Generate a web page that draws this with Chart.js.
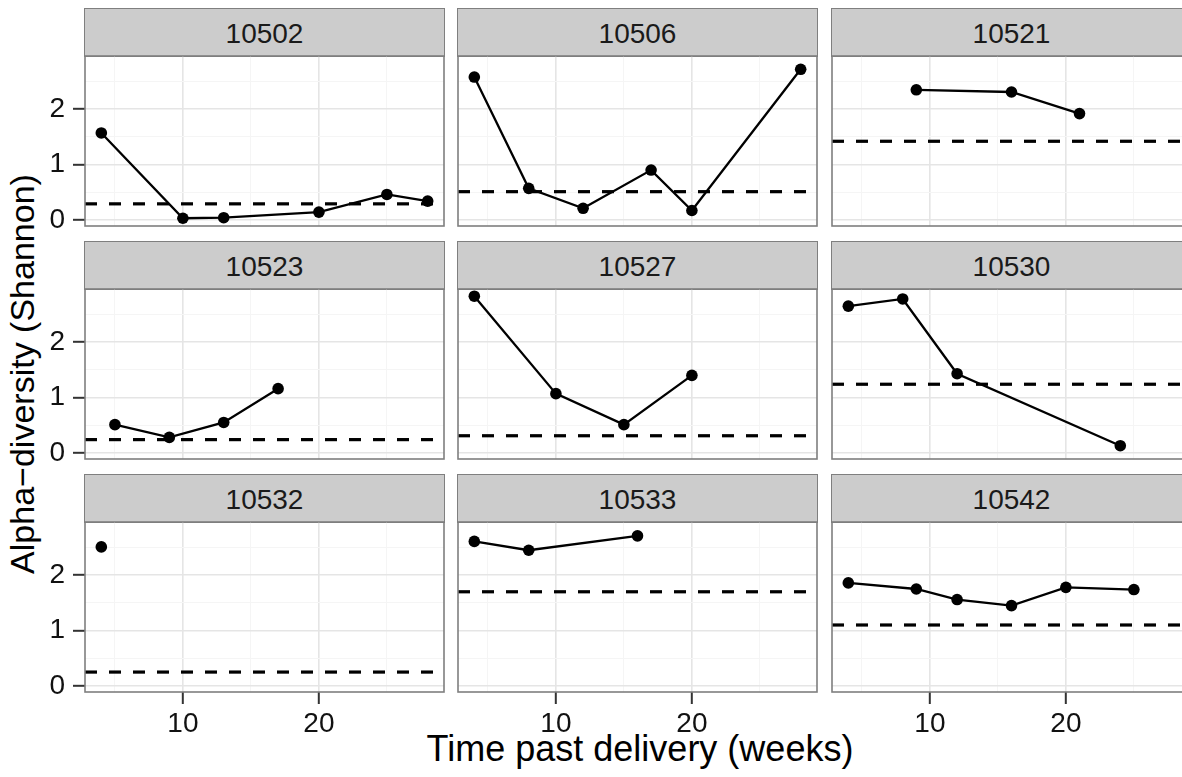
<!DOCTYPE html>
<html><head><meta charset="utf-8">
<script src="https://cdn.jsdelivr.net/npm/chart.js@4.4.1/dist/chart.umd.min.js"></script>
<style>
html,body{margin:0;padding:0;background:#fff;width:1182px;height:777px;overflow:hidden;position:relative;font-family:"Liberation Sans",Arial,sans-serif;}
.strip{position:absolute;box-sizing:border-box;background:#CCCCCC;border:1.5px solid #7F7F7F;color:#1A1A1A;font-size:28px;display:flex;align-items:center;justify-content:center;padding-top:3px;}
canvas{position:absolute;}
.title{position:absolute;color:#000;white-space:nowrap;}
</style></head>
<body>
<div class="title" id="xtitle" style="left:640px;top:731px;font-size:36px;line-height:36px;transform:translateX(-50%);">Time past delivery (weeks)</div>
<div class="title" id="ytitle" style="left:-278px;top:354px;width:600px;height:40px;font-size:34px;line-height:40px;text-align:center;transform:rotate(-90deg);">Alpha−diversity (Shannon)</div>
<script>
// ---- data ----
const PANEL_IDS = ['10502','10506','10521','10523','10527','10530','10532','10533','10542'];
const WEEKS_10502 = [4, 10, 13, 20, 25, 28];
const SHANNON_10502 = [1.57, 0.03, 0.04, 0.14, 0.46, 0.34];
const WEEKS_10506 = [4, 8, 12, 17, 20, 28];
const SHANNON_10506 = [2.58, 0.57, 0.21, 0.90, 0.17, 2.72];
const WEEKS_10521 = [9, 16, 21];
const SHANNON_10521 = [2.35, 2.31, 1.92];
const WEEKS_10523 = [5, 9, 13, 17];
const SHANNON_10523 = [0.51, 0.28, 0.55, 1.16];
const WEEKS_10527 = [4, 10, 15, 20];
const SHANNON_10527 = [2.83, 1.07, 0.51, 1.40];
const WEEKS_10530 = [4, 8, 12, 24];
const SHANNON_10530 = [2.65, 2.78, 1.43, 0.13];
const WEEKS_10532 = [4];
const SHANNON_10532 = [2.51];
const WEEKS_10533 = [4, 8, 16];
const SHANNON_10533 = [2.61, 2.45, 2.71];
const WEEKS_10542 = [4, 9, 12, 16, 20, 25];
const SHANNON_10542 = [1.86, 1.75, 1.56, 1.45, 1.78, 1.74];
const BASELINE = [0.29, 0.51, 1.42, 0.24, 0.31, 1.24, 0.25, 1.70, 1.10];
const X_TICK_LABELS = [10, 20];
const Y_TICK_LABELS = [0, 1, 2];
const X_GRID = [5, 10, 15, 20, 25];
const Y_GRID = [0, 0.5, 1, 1.5, 2, 2.5];
const X_MIN = 2.8, X_MAX = 29.2;
const Y_MIN = -0.11, Y_MAX = 2.96;

const WEEKS = [WEEKS_10502, WEEKS_10506, WEEKS_10521, WEEKS_10523, WEEKS_10527, WEEKS_10530, WEEKS_10532, WEEKS_10533, WEEKS_10542];
const SHANNON = [SHANNON_10502, SHANNON_10506, SHANNON_10521, SHANNON_10523, SHANNON_10527, SHANNON_10530, SHANNON_10532, SHANNON_10533, SHANNON_10542];

// ---- layout ----
const COL_LEFT = [85, 458, 832];
const COL_W = 359;
const ROW_TOP = [8, 241, 474];
const STRIP_H = 48;
const PLOT_H = 170;
const M = 3;

const panelBorder = {
  id: 'panelBorder',
  afterDatasetsDraw(chart) {
    const a = chart.chartArea, ctx = chart.ctx;
    ctx.save();
    ctx.strokeStyle = '#7F7F7F';
    ctx.lineWidth = 1.6;
    ctx.strokeRect(a.left, a.top, a.right - a.left, a.bottom - a.top);
    ctx.restore();
  }
};

const FONT = {family: '"Liberation Sans", Arial, sans-serif', size: 28};

function zeroPad(sc) {
  sc.paddingTop = 0; sc.paddingBottom = 0; sc.paddingLeft = 0; sc.paddingRight = 0;
}

PANEL_IDS.forEach((id, i) => {
  const r = Math.floor(i / 3), c = i % 3;
  const L = COL_LEFT[c], T = ROW_TOP[r] + STRIP_H;
  const padL = c === 0 ? 85 : 0;
  const padB = r === 2 ? 50 : 0;

  const s = document.createElement('div');
  s.className = 'strip';
  s.textContent = id;
  s.style.left = (L - 0.75) + 'px';
  s.style.top = ROW_TOP[r] + 'px';
  s.style.width = (COL_W + 1.5) + 'px';
  s.style.height = (STRIP_H + 0.75) + 'px';
  document.body.appendChild(s);

  const cv = document.createElement('canvas');
  const cw = COL_W + padL + 2 * M, ch = PLOT_H + padB + 2 * M;
  cv.width = cw; cv.height = ch;
  cv.style.width = cw + 'px'; cv.style.height = ch + 'px';
  cv.style.left = (L - padL - M) + 'px';
  cv.style.top = (T - M) + 'px';
  document.body.appendChild(cv);

  const showX = r === 2, showY = c === 0;
  new Chart(cv, {
    type: 'scatter',
    data: {
      datasets: [
        {
          data: WEEKS[i].map((x, k) => ({x: x, y: SHANNON[i][k]})),
          showLine: true,
          borderColor: '#000',
          borderWidth: 2.3,
          pointRadius: 5.8,
          pointHoverRadius: 5.8,
          pointBackgroundColor: '#000',
          pointBorderWidth: 0,
          order: 2
        },
        {
          data: [{x: X_MIN, y: BASELINE[i]}, {x: X_MAX, y: BASELINE[i]}],
          showLine: true,
          borderColor: '#000',
          borderWidth: 3.2,
          borderDash: [12, 12],
          pointRadius: 0,
          order: 1
        }
      ]
    },
    options: {
      responsive: false,
      animation: false,
      devicePixelRatio: 1,
      layout: {autoPadding: false, padding: {left: M, right: M, top: M, bottom: M}},
      plugins: {legend: {display: false}, tooltip: {enabled: false}},
      scales: {
        x: {
          type: 'linear', min: X_MIN, max: X_MAX,
          afterBuildTicks: sc => { sc.ticks = X_GRID.map(v => ({value: v})); },
          afterFit: sc => { sc.height = padB; zeroPad(sc); },
          border: {display: false},
          grid: {
            color: ctx => X_TICK_LABELS.includes(ctx.tick.value) ? '#E5E5E5' : '#F5F5F5',
            lineWidth: ctx => X_TICK_LABELS.includes(ctx.tick.value) ? 1.6 : 1,
            drawTicks: showX, tickLength: 12, tickWidth: 2,
            tickColor: ctx => X_TICK_LABELS.includes(ctx.tick.value) ? '#333333' : 'rgba(0,0,0,0)'
          },
          ticks: {
            display: showX, autoSkip: false, maxRotation: 0, padding: 3,
            color: '#111', font: FONT,
            callback: v => X_TICK_LABELS.includes(v) ? String(v) : ''
          }
        },
        y: {
          type: 'linear', min: Y_MIN, max: Y_MAX,
          afterBuildTicks: sc => { sc.ticks = Y_GRID.map(v => ({value: v})); },
          afterFit: sc => { sc.width = padL; zeroPad(sc); },
          border: {display: false},
          grid: {
            color: ctx => Y_TICK_LABELS.includes(ctx.tick.value) ? '#E5E5E5' : '#F5F5F5',
            lineWidth: ctx => Y_TICK_LABELS.includes(ctx.tick.value) ? 1.6 : 1,
            drawTicks: showY, tickLength: 12, tickWidth: 2,
            tickColor: ctx => Y_TICK_LABELS.includes(ctx.tick.value) ? '#333333' : 'rgba(0,0,0,0)'
          },
          ticks: {
            display: showY, autoSkip: false, padding: 8,
            color: '#111', font: FONT,
            callback: v => Y_TICK_LABELS.includes(v) ? String(v) : ''
          }
        }
      }
    },
    plugins: [panelBorder]
  });
});
</script>
</body></html>
